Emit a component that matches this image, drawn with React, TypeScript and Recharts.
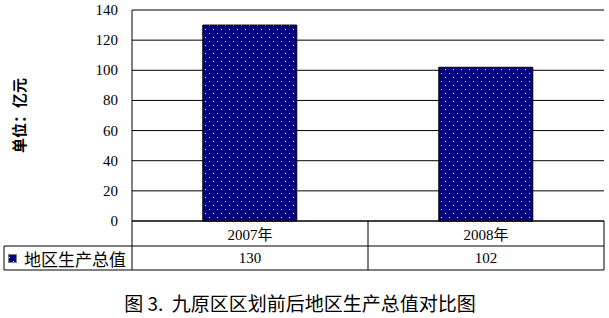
import { BarChart, Bar, XAxis, YAxis, CartesianGrid, ReferenceLine } from 'recharts'

const years = ['2007年', '2008年']
const gdp = [130, 102]
const seriesName = '地区生产总值'
const yTicks = [0, 20, 40, 60, 80, 100, 120, 140]
const yLabel = '单位：亿元'
const title = '图 3.  九原区区划前后地区生产总值对比图'

const W = 609
const H = 318
const M = { top: 10, right: 5, left: 0, bottom: 48 }
const Y_W = 132
const X_H = 49
const ROW = 25
const BAND = (W - M.left - M.right - Y_W) / years.length

const rows = years.map((year, i) => ({ year, value: gdp[i] }))

const serif = '"Liberation Serif", "Times New Roman", "Noto Sans CJK SC", serif'
const cjk = '"Noto Sans CJK SC", sans-serif'

function TableTick(props: any) {
  const { x, y, index } = props
  const l = x - BAND / 2
  const r = x + BAND / 2
  return (
    <g>
      <line x1={r} y1={y} x2={r} y2={y + X_H} stroke="#000" />
      <line x1={l} y1={y + ROW} x2={r} y2={y + ROW} stroke="#000" />
      <line x1={l} y1={y + X_H} x2={r} y2={y + X_H} stroke="#000" />
      <text x={x} y={y + ROW / 2 + 1} textAnchor="middle" dominantBaseline="central" fontFamily={serif} fontSize={15} fill="#000">
        {rows[index].year}
      </text>
      <text x={x} y={y + ROW + 12} textAnchor="middle" dominantBaseline="central" fontFamily={serif} fontSize={15} fill="#000">
        {rows[index].value}
      </text>
      {index === 0 && (
        <g>
          <line x1={l} y1={y} x2={l} y2={y + X_H} stroke="#000" />
          <line x1={4} y1={y + ROW} x2={l} y2={y + ROW} stroke="#000" />
          <line x1={4} y1={y + X_H} x2={l} y2={y + X_H} stroke="#000" />
          <line x1={4} y1={y + ROW} x2={4} y2={y + X_H} stroke="#000" />
          <rect x={8.5} y={y + 33.5} width={8} height={8} fill="url(#dots)" stroke="#808080" />
          <text x={24} y={y + ROW + 12} dominantBaseline="central" fontFamily={cjk} fontSize={17} fill="#000">
            {seriesName}
          </text>
        </g>
      )}
    </g>
  )
}

function ValueTick(props: any) {
  const { x, y, payload } = props
  return (
    <text x={x} y={y} textAnchor="end" dominantBaseline="central" fontFamily={serif} fontSize={15} fill="#000">
      {payload.value}
    </text>
  )
}

function YTitle(props: any) {
  const vb = props.viewBox || {}
  const cy = (vb.y ?? M.top) + (vb.height ?? 211) / 2
  return (
    <text x={20} y={cy} transform={`rotate(-90 20 ${cy})`} textAnchor="middle" dominantBaseline="central" fontFamily={serif} fontWeight="bold" fontSize={15} fill="#000">
      {yLabel}
    </text>
  )
}

export default function App() {
  return (
    <div style={{ position: 'absolute', left: 0, top: 0, width: W, height: H, background: '#fff' }}>
      <BarChart width={W} height={H} data={rows} margin={M} barCategoryGap="30%">
        <defs>
          <pattern id="dots" width="8" height="8" patternUnits="userSpaceOnUse">
            <rect width="8" height="8" fill="#000080" />
            <rect x="1" y="1" width="1" height="1" fill="#fff" />
            <rect x="5" y="5" width="1" height="1" fill="#fff" />
          </pattern>
        </defs>
        <CartesianGrid vertical={false} stroke="#000" />
        <ReferenceLine y={140} stroke="#808080" />
        <XAxis
          dataKey="year"
          height={X_H}
          tickLine={false}
          tickSize={0}
          tickMargin={0}
          axisLine={{ stroke: '#000' }}
          tick={<TableTick />}
          interval={0}
        />
        <YAxis
          width={Y_W}
          domain={[0, 140]}
          ticks={yTicks}
          tickLine={false}
          tickSize={0}
          tickMargin={14}
          axisLine={{ stroke: '#000' }}
          tick={<ValueTick />}
          label={<YTitle />}
        />
        <YAxis yAxisId="r" orientation="right" width={0} domain={[0, 140]} tick={false} tickLine={false} axisLine={{ stroke: '#808080' }} />
        <Bar dataKey="value" name={seriesName} fill="url(#dots)" stroke="#000" isAnimationActive={false} />
      </BarChart>
      <div
        style={{
          position: 'absolute',
          left: 0,
          width: 600,
          top: 289,
          textAlign: 'center',
          fontFamily: cjk,
          fontSize: 19,
          color: '#000',
          whiteSpace: 'pre',
        }}
      >
        {title}
      </div>
    </div>
  )
}
